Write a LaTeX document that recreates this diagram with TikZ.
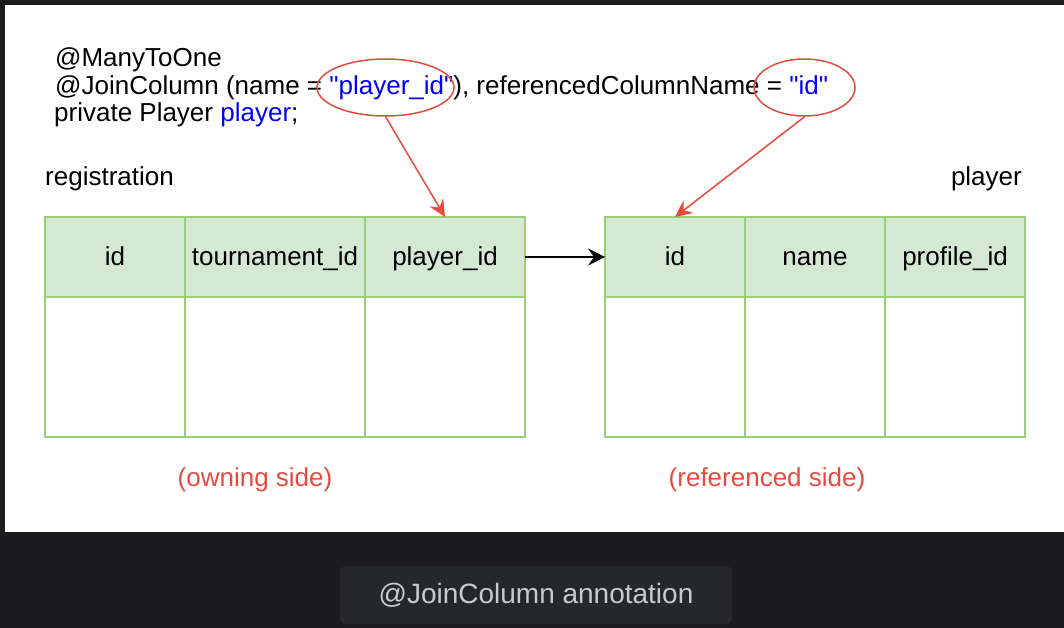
\documentclass[tikz,border=0pt]{standalone}
\usepackage{fontspec}
\setmainfont{Liberation Sans}[Ligatures=TeXOff]
\usepackage{xcolor}
\usetikzlibrary{shapes.geometric, arrows.meta, positioning}

\definecolor{pagedark}{HTML}{1C1C1E}
\definecolor{captionbox}{HTML}{26272A}
\definecolor{captiontext}{HTML}{C9CACC}
\definecolor{codeblue}{HTML}{0000FF}
\definecolor{notered}{HTML}{E84A3F}
\definecolor{cellfill}{HTML}{D5E8D4}
\definecolor{cellline}{HTML}{97D077}

\begin{document}
\begin{tikzpicture}[
    x=1pt, y=-1pt,
    every node/.style={font=\fontsize{26}{31}\selectfont},
    header/.style={rectangle, draw=cellline, fill=cellfill, line width=1.6pt, minimum width=140, minimum height=80, inner sep=0pt, outer sep=0pt, text height=20pt, text depth=2.6pt},
    cell/.style={rectangle, draw=cellline, fill=white, line width=1.6pt, minimum width=140, minimum height=140, inner sep=0pt, outer sep=0pt},
    codeline/.style={anchor=base west, inner sep=0pt},
    oval/.style={ellipse, draw=notered, line width=1.5pt, minimum height=57, inner sep=0pt},
    note/.style={text=notered, anchor=base, inner sep=0pt},
    redarrow/.style={-{Stealth[length=17pt, width=16pt, inset=6pt]}, draw=notered, fill=notered, line width=1.5pt},
    arrow/.style={-{Stealth[length=17pt, width=17pt, inset=6pt]}, line width=1.6pt},
    caption/.style={rectangle, rounded corners=6pt, fill=captionbox, text=captiontext, minimum width=392, minimum height=58, font=\fontsize{28}{32}\selectfont}
]

% page
\useasboundingbox (0,0) rectangle (1064,628);
\fill[pagedark] (0,0) rectangle (1064,628);
\fill[white] (5,5) rectangle (1064,532);

% annotation code
\node[codeline] (manytoone) at (55,67) {@ManyToOne};
\node[codeline] (joincol) at (55,95) {@JoinColumn (name = \textcolor{codeblue}{"player\_id"}), referencedColumnName = \textcolor{codeblue}{"id"}};
\node[codeline] (field) at (54,122) {private Player \textcolor{codeblue}{player};};

\node[oval, minimum width=137] (nameoval) at (385.5,87.5) {};
\node[oval, minimum width=101] (idoval) at (804.5,87.5) {};

% registration table
\node[anchor=base west, inner sep=0pt] (regtitle) at (45,186) {registration};
\node[header, anchor=north west] (regid) at (45,217) {id};
\node[header, minimum width=180, right=0pt of regid] (regtour) {tournament\_id};
\node[header, minimum width=160, right=0pt of regtour] (regplayer) {player\_id};
\node[cell, below=0pt of regid] (regidrow) {};
\node[cell, minimum width=180, below=0pt of regtour] (regtourrow) {};
\node[cell, minimum width=160, below=0pt of regplayer] (regplayerrow) {};

% player table
\node[anchor=base east, inner sep=0pt] (playertitle) at (1022,186) {player};
\node[header, anchor=north west] (refid) at (605,217) {id};
\node[header, right=0pt of refid] (refname) {name};
\node[header, right=0pt of refname] (refprofile) {profile\_id};
\node[cell, below=0pt of refid] (refidrow) {};
\node[cell, below=0pt of refname] (refnamerow) {};
\node[cell, below=0pt of refprofile] (refprofilerow) {};

% side labels
\node[note] (owning) at (255,486) {(owning side)};
\node[note] (referenced) at (767,486) {(referenced side)};

% connectors
\draw[redarrow] (nameoval.south) -- (regplayer.north);
\draw[redarrow] (idoval.south) -- (refid.north);
\draw[arrow] (regplayer.east) -- (refid.west);

% caption
\node[caption] (captionnode) at (536,595) {@JoinColumn annotation};

\end{tikzpicture}
\end{document}
